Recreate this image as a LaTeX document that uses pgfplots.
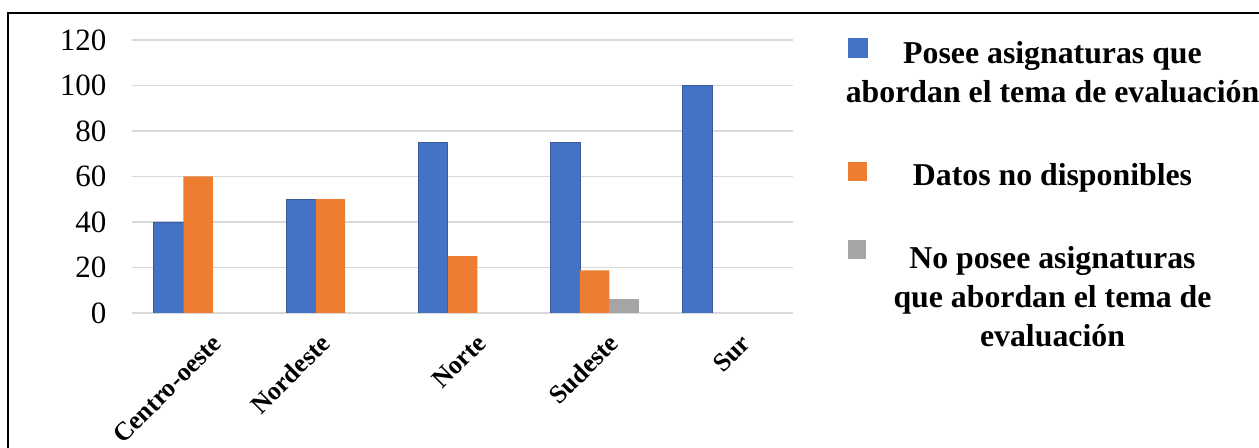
\documentclass[border=0pt]{standalone}
\usepackage{pgfplots}
\pgfplotsset{compat=1.18}
\usepackage{fontspec}
\setmainfont{Liberation Serif}
\definecolor{cblue}{HTML}{4472C4}
\definecolor{corange}{HTML}{ED7D31}
\definecolor{cgray}{HTML}{A5A5A5}
\definecolor{cgrid}{HTML}{D9D9D9}
\begin{document}
\begin{tikzpicture}
\useasboundingbox (0,0) rectangle (629.5pt,224pt);
\draw[line width=1pt] (4pt,0) -- (4pt,217.5pt) -- (629.5pt,217.5pt);
\begin{axis}[
  at={(66pt,67.5pt)}, anchor=south west,
  scale only axis, width=330.5pt, height=136.5pt,
  ybar=0pt, bar width=14.75pt,
  xmin=-0.5, xmax=4.5, ymin=0, ymax=120,
  xtick={0,2,3,4},
  xticklabels={Centro-oeste,Norte,Sudeste,Sur},
  extra x ticks={1},
  extra x tick labels={Nordeste},
  extra x tick style={xticklabel style={xshift=-8.5pt, yshift=8.5pt}, grid=none},
  ytick={0,20,40,60,80,100,120},
  axis line style={draw=none},
  major tick length=0pt,
  ymajorgrids, xmajorgrids=false, grid style={cgrid, line width=0.9pt},
  /pgf/number format/assume math mode=true,
  yticklabel style={font=\fontsize{15.5}{18}\selectfont, xshift=-9.3pt},
  xticklabel style={font=\bfseries\fontsize{13}{15}\selectfont, xshift=12pt, yshift=-10.5pt, rotate=45, anchor=east},
  legend cell align=center,
  legend style={at={(1.0787,0.9963)}, anchor=north west, draw=none,
    inner sep=0pt, outer sep=0pt, fill=none,
    font=\bfseries\fontsize{15.9}{19.6}\selectfont,
    nodes={inner sep=0pt, align=center},
    row sep=29pt,
    /tikz/every even column/.append style={column sep=0pt}},
]
\addplot[fill=cblue, draw=cblue!80!black, line width=0.4pt,
  legend image code/.code={\path (0pt,0pt); \fill[cblue, overlay] (1.5pt,8pt) rectangle (11pt,17.5pt);}]
  coordinates {(0,40) (1,50) (2,75) (3,75) (4,100)};
\addlegendentry{Posee asignaturas que\\abordan el tema de evaluación}
\addplot[fill=corange, draw=none,
  legend image code/.code={\path (0pt,0pt); \fill[corange, overlay] (1.5pt,-2.5pt) rectangle (11pt,7pt);}]
  coordinates {(0,60) (1,50) (2,25) (3,18.75)};
\addlegendentry{Datos no disponibles}
\addplot[fill=cgray, draw=none,
  legend image code/.code={\path (0pt,0pt); \fill[cgray, overlay] (1.5pt,19.5pt) rectangle (10.5pt,29pt);}]
  coordinates {(3,6.25)};
\addlegendentry{No posee asignaturas\\que abordan el tema de\\evaluación}
\end{axis}
\end{tikzpicture}
\end{document}
